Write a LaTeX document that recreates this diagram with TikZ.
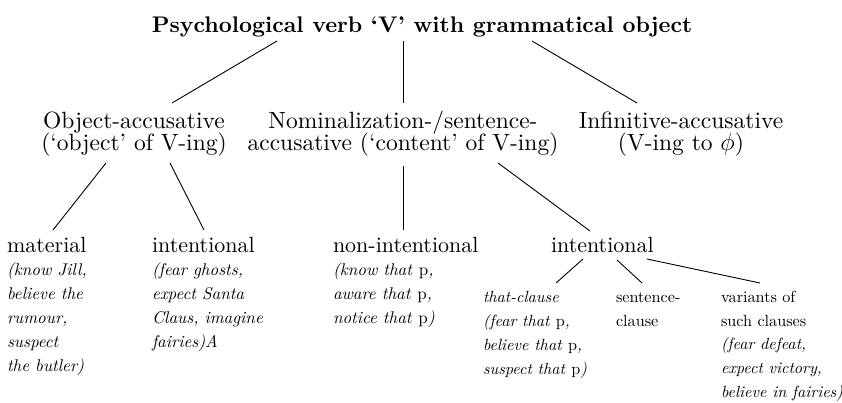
\documentclass[tikz,border=0pt]{standalone}
\usepackage{fontspec}
\setmainfont{lmroman10}[Extension=.otf, UprightFont=*-regular, BoldFont=*-bold, ItalicFont=*-italic, BoldItalicFont=*-bolditalic]
\usetikzlibrary{calc}
\newcommand\lvtwofont{\fontsize{23.5}{22}\selectfont\lineskiplimit=-10pt\relax}
\begin{document}
\begin{tikzpicture}[x=1pt,y=-1pt,
  every node/.style={inner sep=0pt, outer sep=0pt},
  ttl/.style={font=\bfseries\fontsize{22.6}{26}\selectfont, anchor=base},
  lvtwo/.style={font=\lvtwofont, align=center, anchor=base},
  head/.style={font=\fontsize{22}{24}\selectfont, anchor=base west},
  expl/.style={font=\itshape\fontsize{17}{24}\selectfont, align=left, anchor=base west},
  explsm/.style={font=\itshape\fontsize{16.2}{24}\selectfont, align=left, anchor=base west},
  smalltxt/.style={font=\fontsize{16.2}{24}\selectfont, align=left, anchor=base west},
  edge/.style={line width=0.9pt}]
\useasboundingbox (0,0) rectangle (842,402);
% title
\node[ttl] (title) at (422,32) {Psychological verb ‘V’ with grammatical object};
% level 2 (base anchor = baseline of the last line)
\node[lvtwo] (oa) at (134,150) {Object-accusative\\(‘object’ of V-ing)};
\node[lvtwo] (ns) at (403,150) {Nominalization-/sentence-\\accusative (‘content’ of V-ing)};
\node[lvtwo] (ia) at (681,150) {Infinitive-accusative\\(V-ing to $\phi$)};
% level 3
\node[head] (mat) at (7,252) {material};
\node[expl] (matx) at (7,371) {(know Jill,\\believe the\\rumour,\\suspect\\the butler)};
\node[head] (intA) at (152,252) {intentional};
\node[expl] (intAx) at (152,347) {(fear ghosts,\\expect Santa\\Claus, imagine\\fairies)A};
\node[head] (nonint) at (333,252) {non-intentional};
\node[expl] (nonintx) at (333,323) {(know that \textup{p},\\aware that \textup{p},\\notice that \textup{p})};
\node[head] (intB) at (551,252) {intentional};
% level 4
\node[explsm] (thatc) at (483,374) {that-clause\\(fear that \textup{p},\\believe that \textup{p},\\suspect that \textup{p})};
\node[smalltxt] (sent) at (616,326) {sentence-\\clause};
\node[smalltxt] (var) at (721,326) {variants of\\such clauses};
\node[explsm] (varx) at (721,397) {(fear defeat,\\expect victory,\\believe in fairies)};
% connectors
\draw[edge] ($(title.base)+(-145,9)$) -- ($(oa.base)+(38,-47)$);
\draw[edge] ($(title.base)+(-19,9)$) -- ($(ns.base)+(0,-47)$);
\draw[edge] ($(title.base)+(110,9)$) -- ($(ia.base)+(-44,-47)$);
\draw[edge] ($(oa.base)+(-28,13)$) -- ($(mat.base west)+(46,-22)$);
\draw[edge] ($(oa.base)+(36,13)$) -- ($(intA.base west)+(52,-22)$);
\draw[edge] ($(ns.base)+(0,16)$) -- ($(nonint.base west)+(70,-22)$);
\draw[edge] ($(ns.base)+(95,13)$) -- ($(intB.base west)+(39,-21)$);
\draw[edge] ($(intB.base west)+(32,7)$) -- ($(thatc.base west)+(73,-91)$);
\draw[edge] ($(intB.base west)+(66,8)$) -- ($(sent.base west)+(26,-43)$);
\draw[edge] ($(intB.base west)+(96,7)$) -- ($(var.base west)+(39,-43)$);
\end{tikzpicture}
\end{document}
